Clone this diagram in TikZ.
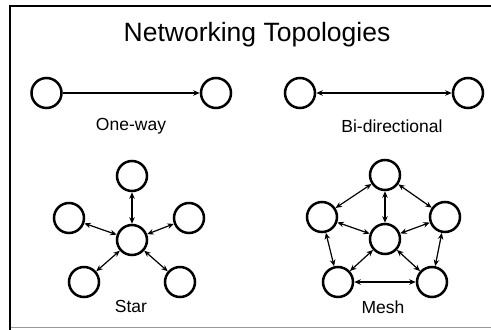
\documentclass[tikz,border=0pt]{standalone}
\usepackage{fontspec}
\setmainfont{Liberation Sans}
\usetikzlibrary{arrows.meta}
\begin{document}
\begin{tikzpicture}[x=1pt,y=-1pt,
  nd/.style={circle,draw,line width=2.5pt,minimum size=30pt,inner sep=0pt},
  lnk/.style={line width=1.2pt,{Stealth[length=6.5pt,width=5.5pt]}-{Stealth[length=6.5pt,width=5.5pt]}},
  one/.style={line width=1.2pt,-{Stealth[length=6.5pt,width=5.5pt]}},
  lbl/.style={font=\fontsize{17.5}{20}\selectfont,inner sep=0pt}]
\useasboundingbox (0,0) rectangle (491,330);
% frame
\draw[line width=2.5pt] (8.75,6) -- (491,6);
\draw[line width=2.5pt] (10,4.75) -- (10,330);
\draw[line width=1.5pt,black!40] (11.25,327.5) -- (491,327.5);
% title
\node[font=\fontsize{26.5}{30}\selectfont,inner sep=0pt] (title) at (257,35) {Networking Topologies};
% one-way
\node[nd] (a1) at (46.5,93) {};
\node[nd] (a2) at (216,93) {};
\draw[one] (a1) -- (a2);
\node[lbl] (l1) at (131,126) {One-way};
% bi-directional
\node[nd] (b1) at (300,93) {};
\node[nd] (b2) at (468,93) {};
\draw[lnk] (b1) -- (b2);
\node[lbl] (l2) at (392,126) {Bi-directional};
% star
\node[nd] (sc) at (132,240) {};
\node[nd] (st) at (132,176) {};
\node[nd] (sl) at (69,218) {};
\node[nd] (sr) at (189,218) {};
\node[nd] (sbl) at (84,282) {};
\node[nd] (sbr) at (180,282) {};
\foreach \n in {st,sl,sr,sbl,sbr} \draw[lnk] (sc) -- (\n);
\node[lbl] (l3) at (131,306) {Star};
% mesh
\node[nd] (mc) at (385,239) {};
\node[nd] (mt) at (385,175) {};
\node[nd] (ml) at (322,217) {};
\node[nd] (mr) at (445,217) {};
\node[nd] (mbl) at (338,282) {};
\node[nd] (mbr) at (432,282) {};
\foreach \n in {mt,ml,mr,mbl,mbr} \draw[lnk] (mc) -- (\n);
\draw[lnk] (mt) -- (ml);
\draw[lnk] (mt) -- (mr);
\draw[lnk] (ml) -- (mbl);
\draw[lnk] (mr) -- (mbr);
\draw[lnk] (mbl) -- (mbr);
\node[lbl] (l4) at (383,307) {Mesh};
\end{tikzpicture}
\end{document}
